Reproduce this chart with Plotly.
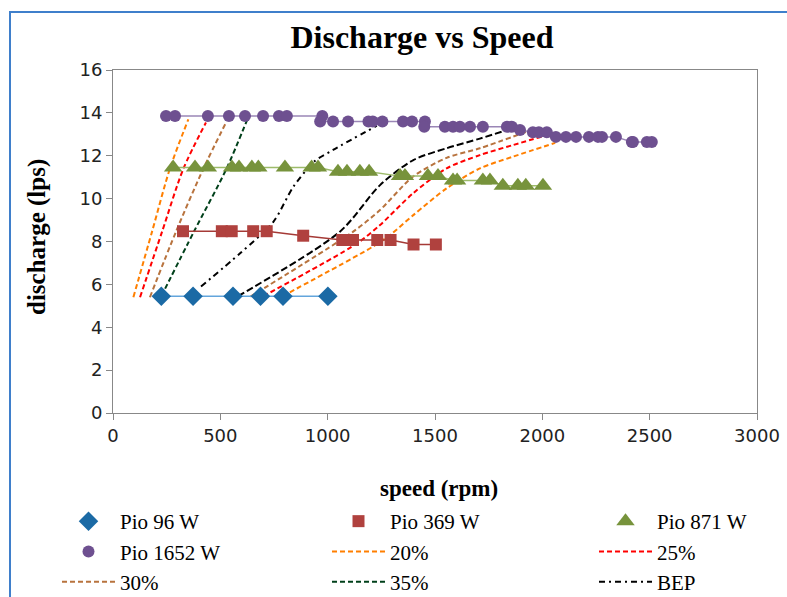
import plotly.graph_objects as go

# ---------------- data ----------------
speed_96 = [225, 373, 559, 687, 792, 1001]
q_96 = [5.45, 5.45, 5.45, 5.45, 5.45, 5.45]

speed_369 = [326, 507, 553, 653, 716, 886, 1068, 1118, 1231, 1293, 1400, 1504]
q_369 = [8.48, 8.48, 8.48, 8.48, 8.48, 8.27, 8.07, 8.07, 8.07, 8.07, 7.86, 7.86]

speed_871 = [280, 382, 442, 554, 587, 647, 677, 801, 925, 955, 1048, 1090, 1150,
             1193, 1337, 1360, 1467, 1514, 1584, 1603, 1723, 1756, 1816, 1886, 1923, 2003]
q_871 = [11.45, 11.45, 11.45, 11.45, 11.45, 11.45, 11.45, 11.45, 11.45, 11.45,
         11.25, 11.25, 11.25, 11.25, 11.05, 11.05, 11.05, 11.05,
         10.85, 10.85, 10.85, 10.85, 10.6, 10.6, 10.6, 10.6]

speed_1652 = [247, 289, 442, 540, 615, 699, 773, 810, 975, 965, 1025, 1095, 1190, 1210,
              1255, 1351, 1393, 1453, 1450, 1546, 1584, 1616, 1663, 1723, 1835, 1858,
              1896, 1956, 1984, 2021, 2063, 2110, 2157, 2217, 2259, 2278, 2343, 2417,
              2422, 2487, 2510]
q_1652 = [13.85, 13.85, 13.85, 13.85, 13.85, 13.85, 13.85, 13.85, 13.85, 13.6,
          13.6, 13.6, 13.6, 13.6, 13.6, 13.6, 13.6, 13.6,
          13.35, 13.35, 13.35, 13.35, 13.35, 13.35, 13.35, 13.35,
          13.2, 13.1, 13.1, 13.1,
          12.88, 12.88, 12.88, 12.88, 12.88, 12.88, 12.88,
          12.64, 12.64, 12.64, 12.64]

# iso-efficiency curves (left and right branches)
e20_left_x = [95, 183, 265, 351]
e20_left_y = [5.4, 8.5, 11.4, 13.7]
e20_right_x = [790, 1212, 1290, 1399, 1554, 1709, 1864, 2060]
e20_right_y = [5.45, 7.77, 8.3, 9.23, 10.48, 11.41, 11.96, 12.6]

e25_left_x = [126, 230, 328, 433]
e25_left_y = [5.4, 8.5, 11.4, 13.55]
e25_right_x = [700, 1135, 1244, 1398, 1554, 1709, 1864, 2051]
e25_right_y = [5.45, 7.9, 8.77, 10.25, 11.41, 12.03, 12.5, 13.05]

e30_left_x = [172, 295, 421, 529]
e30_left_y = [5.4, 8.5, 11.4, 13.6]
e30_right_x = [640, 1119, 1244, 1398, 1554, 1709, 1927]
e30_right_y = [5.43, 8.46, 9.47, 11.03, 11.9, 12.35, 13.12]

e35_left_x = [225, 379, 529, 630]
e35_left_y = [5.45, 8.5, 11.4, 13.8]
e35_right_x = [582, 1057, 1244, 1399, 1554, 1709, 1834]
e35_right_y = [5.45, 8.46, 10.63, 11.8, 12.35, 12.8, 13.2]

bep_x = [410, 592, 747, 840, 940, 1025, 1229]
bep_y = [5.9, 7.45, 8.92, 10.55, 11.75, 12.27, 13.4]

x_ticks = [0, 500, 1000, 1500, 2000, 2500, 3000]
y_ticks = [0, 2, 4, 6, 8, 10, 12, 14, 16]

# ---------------- figure ----------------
fig = go.Figure()

DASH = "5px,3px"

def curve(x, y, name, color, legend, rank, show=True, dash=DASH):
    fig.add_trace(go.Scatter(
        x=x, y=y, mode="lines", name=name, legend=legend, legendrank=rank,
        showlegend=show, legendgroup=name,
        line=dict(color=color, width=2, dash=dash, shape="spline", smoothing=0.8),
        hoverinfo="skip"))

curve(e20_left_x, e20_left_y, "20%", "#FF7F00", "legend2", 2)
curve(e20_right_x, e20_right_y, "20%", "#FF7F00", "legend2", 2, show=False)
curve(e25_left_x, e25_left_y, "25%", "#FF0000", "legend3", 2)
curve(e25_right_x, e25_right_y, "25%", "#FF0000", "legend3", 2, show=False)
curve(e30_left_x, e30_left_y, "30%", "#B8733E", "legend", 3)
curve(e30_right_x, e30_right_y, "30%", "#B8733E", "legend", 3, show=False)
curve(e35_left_x, e35_left_y, "35%", "#00401A", "legend2", 3)
curve(e35_right_x, e35_right_y, "35%", "#000000", "legend2", 3, show=False, dash="7px,3px")
curve(bep_x, bep_y, "BEP", "#000000", "legend3", 3, dash="6px,4px,2px,4px")

def series(x, y, name, mcolor, lcolor, symbol, size, legend, rank):
    fig.add_trace(go.Scatter(
        x=x, y=y, mode="lines", showlegend=False,
        line=dict(color=lcolor, width=1.5), hoverinfo="skip"))
    fig.add_trace(go.Scatter(
        x=x, y=y, mode="markers", name=name, legend=legend, legendrank=rank,
        marker=dict(color=mcolor, symbol=symbol, size=size, line=dict(width=0))))

series(speed_96, q_96, "Pio 96 W", "#1B6AA5", "#63A5DC", "diamond", 15, "legend", 1)
series(speed_369, q_369, "Pio 369 W", "#B0413E", "#A53A36", "square", 12, "legend2", 1)
series(speed_871, q_871, "Pio 871 W", "#77933C", "#9DBB6A", "triangle-up", 16, "legend3", 1)
series(speed_1652, q_1652, "Pio 1652 W", "#6E5090", "#9A86B6", "circle", 12, "legend", 2)

axis_font = dict(family="DejaVu Sans", size=18, color="#222222")
leg_common = dict(xref="container", yref="container", xanchor="left", yanchor="top",
                  orientation="v", bgcolor="rgba(0,0,0,0)", itemwidth=53,
                  font=dict(family="Liberation Serif", size=21, color="black"),
                  traceorder="normal")

fig.update_layout(
    width=787, height=597,
    margin=dict(l=113, r=30, t=70, b=184, autoexpand=False),
    paper_bgcolor="white", plot_bgcolor="white",
    title=dict(text="<b>Discharge vs Speed</b>", x=422 / 787, xref="container",
               y=1 - 37 / 597, yref="container", xanchor="center", yanchor="middle",
               font=dict(family="Liberation Serif", size=32, color="black")),
    xaxis=dict(range=[0, 3000], tickvals=x_ticks, ticks="outside", ticklen=6,
               tickcolor="#888888", showline=True, linecolor="#888888", linewidth=1,
               mirror=True, showgrid=False, zeroline=False, tickfont=axis_font,
               automargin=False),
    yaxis=dict(range=[0, 16], tickvals=y_ticks, ticks="outside", ticklen=6,
               tickcolor="#888888", showline=True, linecolor="#888888", linewidth=1,
               mirror=True, showgrid=False, zeroline=False, tickfont=axis_font,
               automargin=False),
    legend=dict(x=57 / 787, y=1 - 501 / 597, **leg_common),
    legend2=dict(x=327 / 787, y=1 - 501 / 597, **leg_common),
    legend3=dict(x=594 / 787, y=1 - 501 / 597, **leg_common),
    annotations=[
        dict(text="<b>speed (rpm)</b>", xref="paper", yref="paper",
             x=(439 - 113) / 644, y=(413 - 488) / 343, showarrow=False,
             xanchor="center", yanchor="middle",
             font=dict(family="Liberation Serif", size=23, color="black")),
        dict(text="<b>discharge (lps)</b>", xref="paper", yref="paper",
             x=(37 - 113) / 644, y=(413 - 237) / 343, showarrow=False, textangle=-90,
             xanchor="center", yanchor="middle",
             font=dict(family="Liberation Serif", size=25, color="black")),
    ],
    shapes=[dict(type="rect", xref="paper", yref="paper",
                 x0=(10 - 113) / 644, x1=(820 - 113) / 644,
                 y0=(413 - 640) / 343, y1=(413 - 12) / 343,
                 line=dict(color="#3F7FCB", width=2), fillcolor="rgba(0,0,0,0)",
                 layer="below")],
)

fig.write_html("out.html")
